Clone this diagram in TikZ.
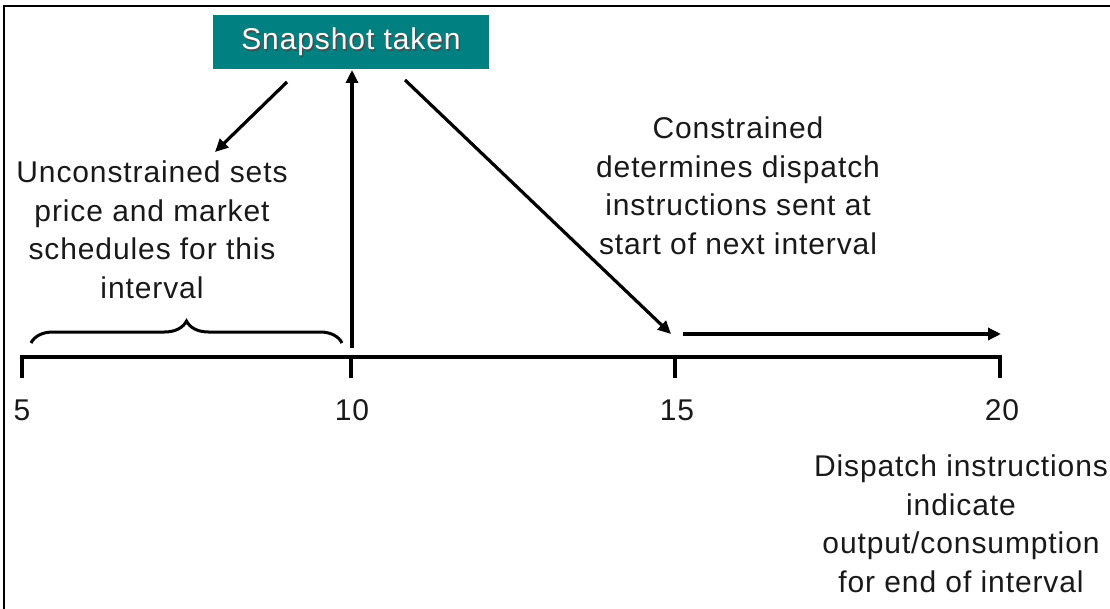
\documentclass[tikz,border=0pt]{standalone}
\usepackage{fontspec}
\setmainfont{Liberation Sans}
\usetikzlibrary{decorations.pathreplacing,arrows.meta}
\definecolor{tealbox}{HTML}{008080}
\newfontfamily\lblfont[LetterSpace=3]{Liberation Sans}
\tikzset{
  lbl/.style={font=\lblfont\fontsize{30}{38.5}\selectfont, align=center, text=black!90, inner sep=0pt},
  ticklbl/.style={font=\lblfont\fontsize{30}{34}\selectfont, text=black!90, inner sep=0pt},
  conn/.style={line width=3.2pt, -{Triangle[length=13pt,width=12pt]}},
  axis/.style={line width=3.4pt},
}
\begin{document}
\begin{tikzpicture}[x=1pt,y=-1pt]
\useasboundingbox (0,0) rectangle (1110,609);
% frame
\draw[line width=1.8pt] (4,609) -- (4,6) -- (1110,6);
% snapshot box
\node[fill=tealbox, minimum width=276pt, minimum height=54pt, inner sep=0pt, anchor=north west] (snap) at (213,15) {};
\node[font=\lblfont\fontsize{30}{34}\selectfont, text=black!70, inner sep=0pt] (snapshadow) at (352.5,43.5) {Snapshot taken};
\node[font=\lblfont\fontsize{30}{34}\selectfont, text=white, inner sep=0pt] (snaptxt) at (351,42) {Snapshot taken};
% axis
\coordinate (t5) at (22,357);
\coordinate (t10) at (351,357);
\coordinate (t15) at (675,357);
\coordinate (t20) at (1000,357);
\draw[axis] (22,378) -- (t5) -- (t20) -- (1000,378);
\draw[axis] (t10) -- (351,378);
\draw[axis] (t15) -- (675,378);
\node[ticklbl] (n5) at (22,410) {5};
\node[ticklbl] (n10) at (352,410) {10};
\node[ticklbl] (n15) at (677,410) {15};
\node[ticklbl] (n20) at (1002,410) {20};
% texts
\node[lbl] (uncon) at (152,230) {Unconstrained sets\\price and market\\schedules for this\\interval};
\node[lbl] (con) at (738,186) {Constrained\\determines dispatch\\instructions sent at\\start of next interval};
\node[lbl] (disp) at (961,524) {Dispatch instructions\\indicate\\output/consumption\\for end of interval};
% brace
\draw[line width=3pt, decorate, decoration={brace, amplitude=22pt}] (31,343) -- (342,343);
% arrows
\coordinate (a1s) at (287,82);
\coordinate (a1e) at (215,152);
\draw[conn] (a1s) -- (a1e);
\coordinate (a2s) at (352,348);
\draw[conn] (a2s) -- (352,70) coordinate (a2e);
\coordinate (a3s) at (405,80);
\coordinate (a3e) at (671,334);
\draw[conn] (a3s) -- (a3e);
\coordinate (a4s) at (683,334);
\coordinate (a4e) at (1001,334);
\draw[conn] (a4s) -- (a4e);
\end{tikzpicture}
\end{document}
